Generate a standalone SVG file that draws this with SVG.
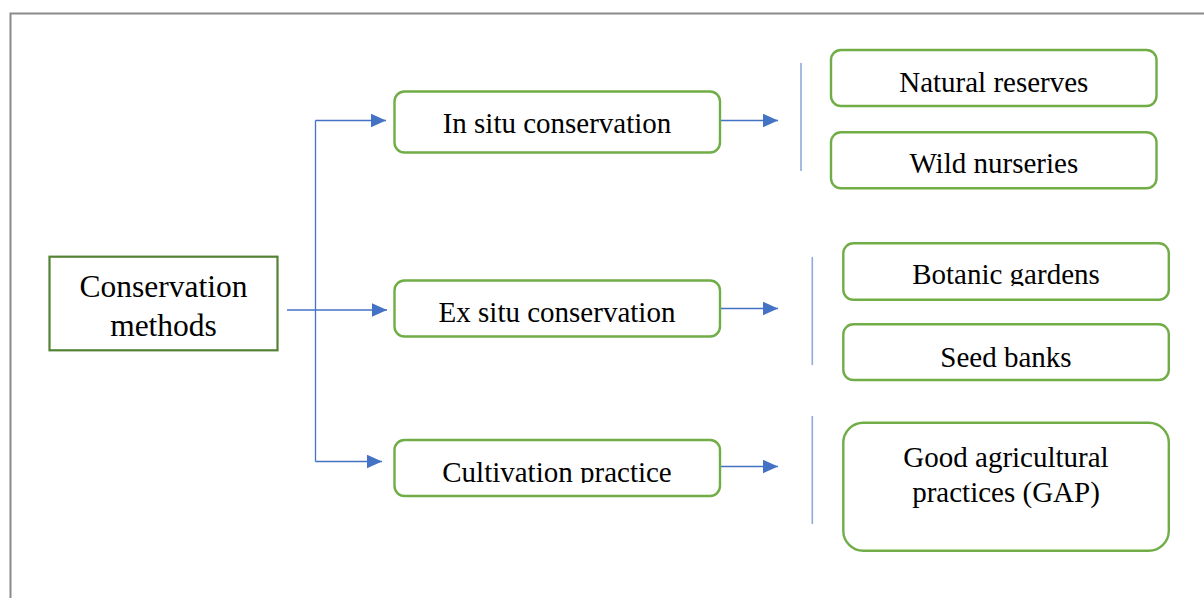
<svg xmlns="http://www.w3.org/2000/svg" width="1204" height="598" viewBox="0 0 1204 598">
<style>
.frame{fill:none;stroke:#8a8a8a;stroke-width:2}
.main{fill:#fff;stroke:#548235;stroke-width:2.2}
.box{fill:#fff;stroke:#70ad47;stroke-width:2.4}
.t{font-family:"Liberation Serif","Times New Roman",serif;font-size:29px;fill:#000;text-anchor:middle}
.tm{font-family:"Liberation Serif","Times New Roman",serif;font-size:31.5px;fill:#000;text-anchor:middle}
.c{fill:none;stroke:#4472c4;stroke-width:1.3}
.bar{fill:none;stroke:#8faadc;stroke-width:1.6}
</style>
<defs>
<marker id="ah" markerWidth="16" markerHeight="14" refX="15.5" refY="7" orient="auto" markerUnits="userSpaceOnUse">
<path d="M0,0 L15.5,7 L0,14 Z" fill="#4472c4"/>
</marker>
<clipPath id="clipBot"><rect x="843" y="243" width="327" height="43"/></clipPath>
<clipPath id="clipCult"><rect x="394" y="440" width="327" height="43"/></clipPath>
</defs>
<rect width="1204" height="598" fill="#fff"/>
<path class="frame" d="M10.5,600 V13.5 H1206"/>

<g id="connectors">
<path class="c" d="M315.5,120.5 V461.5"/>
<path class="c" d="M315.5,120.5 H386" marker-end="url(#ah)"/>
<path class="c" d="M287,310 H387" marker-end="url(#ah)"/>
<path class="c" d="M315.5,461.5 H382" marker-end="url(#ah)"/>
<path class="c" d="M720,120.5 H778" marker-end="url(#ah)"/>
<path class="c" d="M720,308.5 H778" marker-end="url(#ah)"/>
<path class="c" d="M720,466.5 H778" marker-end="url(#ah)"/>
<path class="bar" d="M801,63 V171"/>
<path class="bar" d="M812.3,257 V365"/>
<path class="bar" d="M812.3,416 V524"/>
</g>

<g id="node-conservation-methods">
<rect class="main" x="49.5" y="256.7" width="228" height="93.6"/>
<text class="tm" x="163.5" y="297.3">Conservation</text>
<text class="tm" x="163.5" y="335.5">methods</text>
</g>

<g id="node-in-situ">
<rect class="box" x="394.5" y="91.5" width="325.5" height="61" rx="10"/>
<text class="t" x="557" y="133.3">In situ conservation</text>
</g>

<g id="node-ex-situ">
<rect class="box" x="394.5" y="280.5" width="325.5" height="56" rx="10"/>
<text class="t" x="557" y="321.7">Ex situ conservation</text>
</g>

<g id="node-cultivation">
<rect class="box" x="394.5" y="440" width="325.5" height="56" rx="10"/>
<text class="t" x="557" y="481.5" clip-path="url(#clipCult)">Cultivation practice</text>
</g>

<g id="node-natural-reserves">
<rect class="box" x="831" y="50" width="325.5" height="56" rx="10"/>
<text class="t" x="993.8" y="91.7">Natural reserves</text>
</g>

<g id="node-wild-nurseries">
<rect class="box" x="831" y="132.3" width="325.5" height="56" rx="10"/>
<text class="t" x="993.8" y="172.7">Wild nurseries</text>
</g>

<g id="node-botanic-gardens">
<rect class="box" x="843.3" y="243.3" width="325.5" height="56.5" rx="10"/>
<text class="t" x="1006" y="284.3" clip-path="url(#clipBot)">Botanic gardens</text>
</g>

<g id="node-seed-banks">
<rect class="box" x="843.3" y="324.3" width="325.5" height="55.7" rx="10"/>
<text class="t" x="1006" y="366.7">Seed banks</text>
</g>

<g id="node-gap">
<rect class="box" x="843.3" y="422.7" width="325.5" height="128" rx="20"/>
<text class="t" x="1006" y="467.3">Good agricultural</text>
<text class="t" x="1006" y="501.7">practices (GAP)</text>
</g>
</svg>
